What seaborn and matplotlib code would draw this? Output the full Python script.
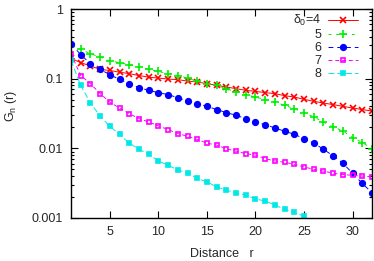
import numpy as np
import pandas as pd
import matplotlib
matplotlib.use("Agg")
import matplotlib.pyplot as plt
import seaborn as sns
from matplotlib.ticker import LogLocator, FixedLocator, NullFormatter, FixedFormatter

sns.set_theme(style="ticks")
plt.rcParams['font.family'] = ['Liberation Sans', 'DejaVu Sans']
plt.rcParams['mathtext.fontset'] = 'custom'
plt.rcParams['mathtext.rm'] = 'Liberation Sans'
plt.rcParams['mathtext.it'] = 'Liberation Sans'

r_all = list(range(1, 33))

g4 = [0.195, 0.17, 0.152, 0.136, 0.131, 0.124, 0.118, 0.111, 0.105, 0.102, 0.0987,
      0.0968, 0.0924, 0.0894, 0.0848, 0.0802, 0.0759, 0.0719, 0.068, 0.0658, 0.063, 0.061,
      0.057, 0.0545, 0.0505, 0.0473, 0.0447, 0.0424, 0.0401, 0.0379, 0.036, 0.0343]
g5 = [0.29, 0.263, 0.228, 0.204, 0.179, 0.17, 0.159, 0.147, 0.136, 0.127, 0.118,
      0.111, 0.102, 0.0915, 0.0848, 0.080, 0.0719, 0.0643, 0.059, 0.0545, 0.05, 0.0462,
      0.0414, 0.0372, 0.0326, 0.0282, 0.0239, 0.0203, 0.0178, 0.0143, 0.0121, 0.0099]
g6 = [0.317, 0.221, 0.164, 0.136, 0.114, 0.0977, 0.0848, 0.0743, 0.068, 0.063, 0.059,
      0.0534, 0.0478, 0.0438, 0.0401, 0.036, 0.0326, 0.0298, 0.0267, 0.0239, 0.0219, 0.0196,
      0.0176, 0.0159, 0.0138, 0.0119, 0.0097, 0.0078, 0.0061, 0.0044, 0.00313, 0.00231]
g7 = [0.228, 0.111, 0.0848, 0.061, 0.046, 0.0379, 0.0315, 0.0267, 0.0239, 0.021, 0.0186,
      0.0163, 0.0149, 0.0134, 0.0119, 0.0111, 0.0099, 0.0091, 0.0084, 0.008, 0.0071, 0.0066,
      0.0063, 0.0059, 0.0054, 0.005, 0.0047, 0.0044, 0.0042, 0.0041, 0.004, 0.0039]
g8 = [0.183, 0.080, 0.0447, 0.029, 0.0207, 0.0158, 0.0119, 0.0097, 0.0082, 0.0066, 0.0057,
      0.0049, 0.0044, 0.0037, 0.0033, 0.0028, 0.00251, 0.0023, 0.00213, 0.00187, 0.00176,
      0.00153, 0.00133, 0.0012, 0.00106]

labels = [r"$\delta_0$=4", "5", "6", "7", "8"]
series = [g4, g5, g6, g7, g8]

colors = ["#ff0000", "#00f000", "#0000ff", "#ff00ff", "#00e8e8"]
markers = ["x", "+", "o", "s", "s"]
mfc = ["#ff0000", "#00f000", "#0000ff", "none", "#00e8e8"]
msize = [3.8, 5.5, 4.0, 3.4, 3.4]
dashes = ["-", (0, (3, 5)), (0, (5, 4)), (0, (4, 3)), (0, (6, 3))]

fig = plt.figure(figsize=(3.74, 2.61), dpi=100)
ax = fig.add_axes([71 / 374, 1 - 218 / 261, 301 / 374, 209 / 261])

for lab, vals, c, m, fc, ms, ls in zip(labels, series, colors, markers, mfc, msize, dashes):
    xs = r_all[:len(vals)]
    sns.lineplot(x=xs, y=vals, ax=ax, color=c, marker=m, markersize=ms,
                 markerfacecolor=fc, markeredgecolor=c, markeredgewidth=1.2,
                 linestyle=ls, linewidth=0.7, label=lab, clip_on=True)

ax.set_yscale("log")
ax.set_xlim(1, 32)
ax.set_ylim(0.001, 1)

ax.xaxis.set_major_locator(FixedLocator([5, 10, 15, 20, 25, 30]))
ax.yaxis.set_major_locator(FixedLocator([0.001, 0.01, 0.1, 1]))
ax.yaxis.set_major_formatter(FixedFormatter(["0.001", "0.01", "0.1", "1"]))
ax.yaxis.set_minor_locator(LogLocator(base=10, subs=np.arange(2, 10)))
ax.yaxis.set_minor_formatter(NullFormatter())

ax.tick_params(axis='both', which='both', direction='in', top=True, right=True,
               labelsize=9, color='black', width=0.8)
ax.tick_params(axis='both', which='major', length=5)
ax.tick_params(axis='x', which='major', pad=6)
ax.tick_params(axis='y', which='major', pad=6)
ax.tick_params(axis='y', which='minor', length=2.5)
for s in ax.spines.values():
    s.set_linewidth(1.0)
    s.set_color('black')

ax.set_xlabel("Distance   r", fontsize=9, labelpad=7)
ax.set_ylabel(r"G$_{\rm n}$ (r)", fontsize=9, va='center', ha='center')
ax.yaxis.set_label_coords(-0.2, 0.535)

leg = ax.legend(loc='upper right', bbox_to_anchor=(0.952, 0.98), frameon=False,
                fontsize=9, markerfirst=False, handlelength=2.4,
                handletextpad=0.5, labelspacing=0.08, borderaxespad=0.0,
                borderpad=0.0)

fig.savefig("out.png", dpi=100)
